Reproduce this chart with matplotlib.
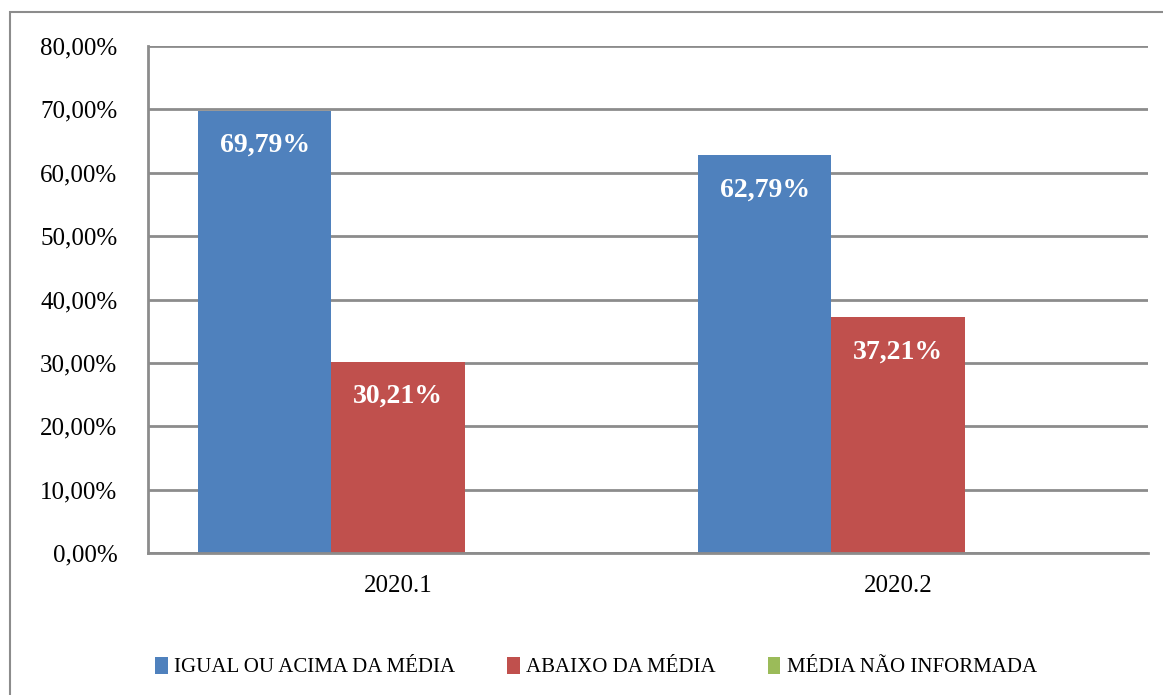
import matplotlib.pyplot as plt
import matplotlib.patches as patches
from matplotlib.ticker import FuncFormatter
import numpy as np

plt.rcParams['font.family'] = ['Liberation Serif', 'DejaVu Serif']

# data
categories = ['2020.1', '2020.2']
series_names = ['IGUAL OU ACIMA DA MÉDIA', 'ABAIXO DA MÉDIA', 'MÉDIA NÃO INFORMADA']
igual_acima = [69.79, 62.79]
abaixo = [30.21, 37.21]
nao_informada = [0.0, 0.0]

colors = ['#4F81BD', '#C0504D', '#9BBB59']
grid_color = '#8C8C8C'

fig = plt.figure(figsize=(11.63, 6.95), dpi=100)
ax = fig.add_axes([148/1163, 1 - 553/695, 1000/1163, (553 - 46)/695])

# outer chart border (cropped at right/bottom like the reference)
fig.patches.append(patches.Rectangle((10/1163, -0.05), 1.2, 1 - 12/695 + 0.05,
                                     transform=fig.transFigure, fill=False,
                                     edgecolor=grid_color, linewidth=1.5))

x = np.arange(len(categories))
width = 0.8 / 3
all_series = [igual_acima, abaixo, nao_informada]
for i, (vals, name, col) in enumerate(zip(all_series, series_names, colors)):
    bars = ax.bar(x + (i - 1) * width, vals, width, color=col, label=name, zorder=2)
    for b, v in zip(bars, vals):
        if v > 0:
            ax.annotate(f'{v:.2f}%'.replace('.', ','),
                        xy=(b.get_x() + b.get_width() / 2, b.get_height()),
                        xytext=(0, -25), textcoords='offset points',
                        ha='center', va='center', color='white',
                        fontsize=20, fontweight='bold', zorder=3)

ax.set_xlim(-0.5, 1.5)
ax.set_ylim(0, 80)
ax.set_yticks(np.arange(0, 81, 10))
ax.yaxis.set_major_formatter(FuncFormatter(lambda v, p: f'{v:.2f}%'.replace('.', ',')))
ax.set_xticks(x)
ax.set_xticklabels(categories)
ax.tick_params(axis='both', length=0, labelsize=18)
ax.tick_params(axis='y', pad=22)
ax.tick_params(axis='x', pad=16)

ax.yaxis.grid(True, color=grid_color, linewidth=2, zorder=0)
ax.set_axisbelow(True)
for s in ['top', 'right']:
    ax.spines[s].set_visible(False)
for s in ['left', 'bottom']:
    ax.spines[s].set_color(grid_color)
    ax.spines[s].set_linewidth(2)

fig.legend(loc='center', bbox_to_anchor=(596/1163, 28/695), ncol=3, frameon=False,
           fontsize=15, handlelength=0.6, handleheight=0.9, handletextpad=0.3,
           columnspacing=2.5)

fig.savefig('out.png', dpi=100)
